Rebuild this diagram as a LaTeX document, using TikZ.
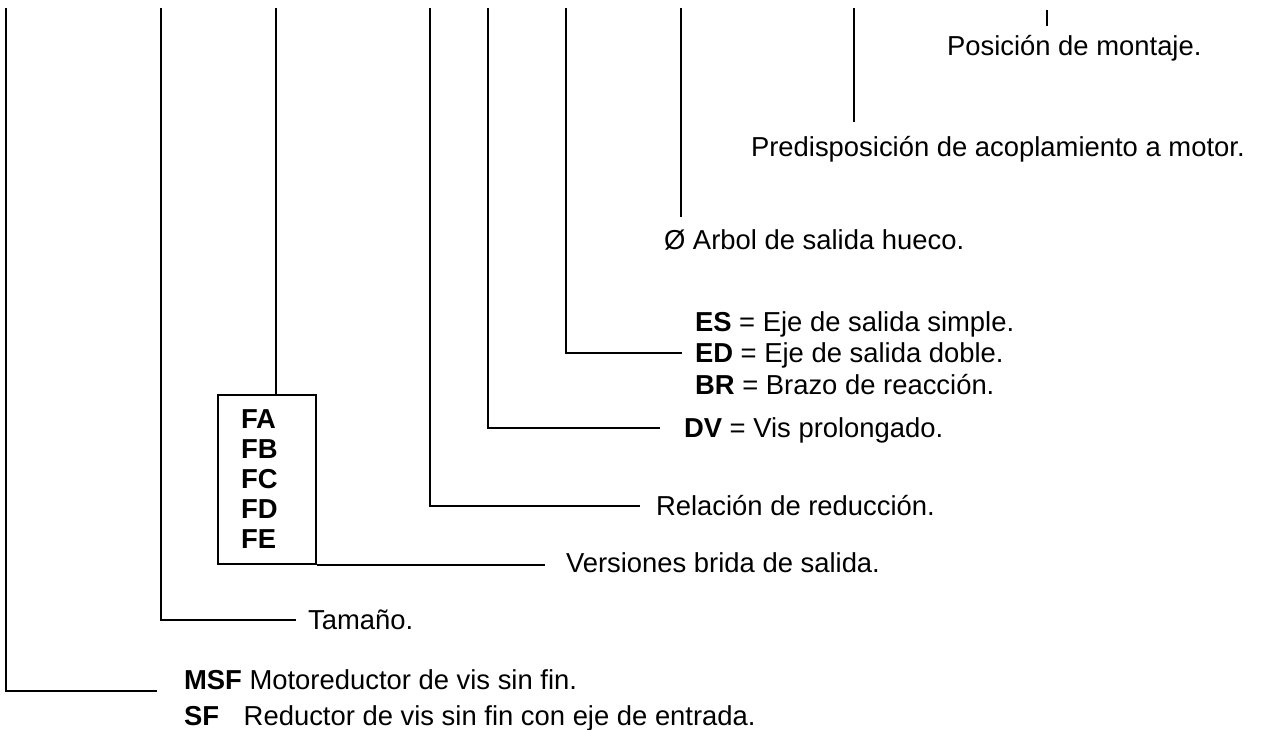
\documentclass[tikz,border=0pt]{standalone}
\usepackage{fontspec}
\setmainfont{Liberation Sans}
\usetikzlibrary{positioning}

\begin{document}
\begin{tikzpicture}[x=0.02cm,y=-0.02cm,line width=1.2pt,
	every node/.style={font=\fontsize{15.6pt}{17.07pt}\selectfont},
	lbl/.style={inner sep=0pt,anchor=west,text height=11.2pt,text depth=0pt},
	codebox/.style={draw,align=left,inner xsep=0.46cm,inner ysep=0pt,text width=1.04cm,minimum width=1.96cm,minimum height=3.38cm}]
	\useasboundingbox (0,0) rectangle (1262,730);

	\coordinate (serie) at (6,8);
	\coordinate (tamano) at (161,8);
	\coordinate (brida) at (276,8);
	\coordinate (relacion) at (430,8);
	\coordinate (vis) at (488,8);
	\coordinate (eje) at (566,8);
	\coordinate (hueco) at (681,8);
	\coordinate (motor) at (854,8);
	\coordinate (montaje) at (1047,10);

	\node (msf) at (183,680) [lbl] {\textbf{MSF} Motoreductor de vis sin fin.};
	\node (sf) [lbl,below=0.27cm of msf.south west,anchor=north west] {\textbf{SF}\hspace{0.9em}Reductor de vis sin fin con eje de entrada.};
	\node (tam) at (307,620) [lbl] {Tamaño.};
	\node (flange) at (267,479.5) [codebox] {\textbf{FA}\\\textbf{FB}\\\textbf{FC}\\\textbf{FD}\\\textbf{FE}};
	\node (vers) at (565,563) [lbl] {Versiones brida de salida.};
	\node (rel) at (655,506) [lbl] {Relación de reducción.};
	\node (dv) at (683,428) [lbl] {\textbf{DV} = Vis prolongado.};
	\node (ed) at (694,353) [lbl] {\textbf{ED} = Eje de salida doble.};
	\node (es) [lbl,above=0.19cm of ed.north west,anchor=south west] {\textbf{ES} = Eje de salida simple.};
	\node (br) [lbl,below=0.19cm of ed.south west,anchor=north west] {\textbf{BR} = Brazo de reacción.};
	\node (arbol) at (663,240) [lbl] {Ø Arbol de salida hueco.};
	\node (predis) at (750,147) [lbl] {Predisposición de acoplamiento a motor.};
	\node (posic) at (946,46) [lbl] {Posición de montaje.};

	\draw[shorten >=0.52cm] (serie) |- (msf.south west);
	\draw[shorten >=0.22cm] (tamano) |- (tam.west);
	\draw (brida) -- (brida |- flange.north);
	\draw[shorten >=0.4cm] (flange.south east) -- (flange.south east -| vers.west);
	\draw[shorten >=0.3cm] (relacion) |- (rel.west);
	\draw[shorten >=0.46cm] (vis) |- (dv.west);
	\draw[shorten >=0.24cm] (eje) |- (ed.west);
	\draw[shorten >=0.24cm] (hueco) -- (hueco |- arbol.north);
	\draw[shorten >=0.28cm] (motor) -- (motor |- predis.north);
	\draw[shorten >=0.18cm] (montaje) -- (montaje |- posic.north);

\end{tikzpicture}
\end{document}
